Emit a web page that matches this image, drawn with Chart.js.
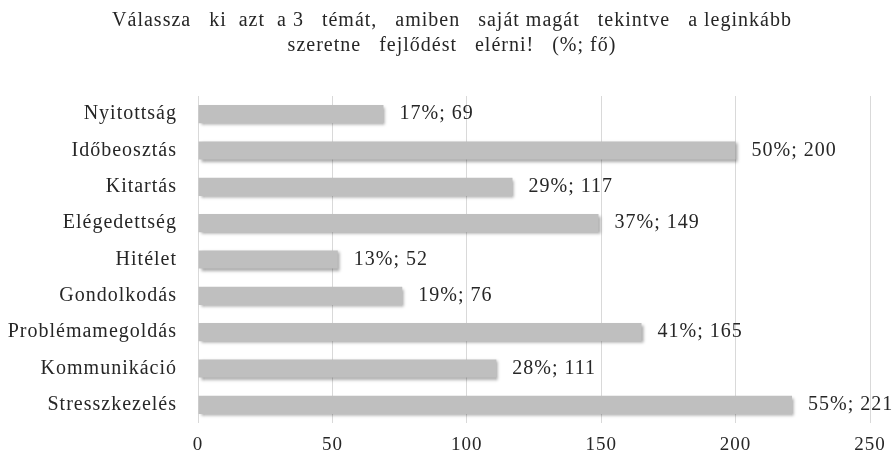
<!DOCTYPE html>
<html lang="hu">
<head>
  <meta charset="UTF-8" />
  <script src="https://cdn.jsdelivr.net/npm/chart.js"></script>
  <title>Fejlődési témák</title>
  <style>
    html, body { margin: 0; padding: 0; background: #fff; }
    #wrap { width: 893px; height: 457px; }
  </style>
</head>
<body>
  <div id="wrap"><canvas id="grafico" width="893" height="457"></canvas></div>
  <script>
    // Témák (fentről lefelé), fő és százalék
    const temak = [
      'Nyitottság', 'Időbeosztás', 'Kitartás', 'Elégedettség', 'Hitélet',
      'Gondolkodás', 'Problémamegoldás', 'Kommunikáció', 'Stresszkezelés'
    ];
    const fok = [69, 200, 117, 149, 52, 76, 165, 111, 221];
    const szazalekok = [17, 50, 29, 37, 13, 19, 41, 28, 55];
    const xTickek = [0, 50, 100, 150, 200, 250];

    const betu = "'Liberation Serif', 'Times New Roman', serif";

    // kicsit ritkított betűköz minden szövegre
    const betukoz = {
      id: 'betukoz',
      beforeLayout(chart) { chart.ctx.letterSpacing = '1px'; },
      beforeDraw(chart) { chart.ctx.letterSpacing = '1px'; }
    };

    // a hosszú kategórianevek ne vágódjanak le a bal szélen
    const balszel = {
      id: 'balszel',
      afterLayout(chart) { chart.scales.y.left = 0; }
    };

    // árnyék az oszlopok alá
    const arnyek = {
      id: 'arnyek',
      beforeDatasetsDraw(chart) {
        const ctx = chart.ctx;
        ctx.save();
        ctx.shadowColor = 'rgba(0,0,0,0.35)';
        ctx.shadowBlur = 3;
        ctx.shadowOffsetX = 2;
        ctx.shadowOffsetY = 2;
      },
      afterDatasetsDraw(chart) {
        chart.ctx.restore();
      }
    };

    // "17%; 69" feliratok az oszlopok végén
    const feliratok = {
      id: 'feliratok',
      afterDatasetsDraw(chart) {
        const ctx = chart.ctx;
        const meta = chart.getDatasetMeta(0);
        ctx.save();
        ctx.font = '20px ' + betu;
        ctx.fillStyle = '#262626';
        ctx.textAlign = 'left';
        ctx.textBaseline = 'middle';
        meta.data.forEach((bar, i) => {
          ctx.fillText(szazalekok[i] + '%; ' + fok[i], bar.x + 16, bar.y);
        });
        ctx.restore();
      }
    };

    const ctx = document.getElementById('grafico').getContext('2d');
    new Chart(ctx, {
      type: 'bar',
      data: {
        labels: temak,
        datasets: [{
          data: fok,
          backgroundColor: '#bfbfbf',
          borderWidth: 0,
          barPercentage: 0.5,
          categoryPercentage: 1
        }]
      },
      plugins: [betukoz, balszel, arnyek, feliratok],
      options: {
        indexAxis: 'y',
        responsive: false,
        animation: false,
        layout: { padding: { left: 34, right: 23, top: 8, bottom: 0 } },
        plugins: {
          legend: { display: false },
          tooltip: { enabled: false },
          title: {
            display: true,
            text: [
              'Válassza   ki  azt  a 3   témát,   amiben   saját magát   tekintve   a leginkább',
              'szeretne   fejlődést   elérni!   (%; fő)'
            ],
            color: '#262626',
            font: { family: betu, size: 20, weight: 'normal', lineHeight: 1.25 },
            padding: { top: 0, bottom: 38 }
          }
        },
        scales: {
          x: {
            min: 0,
            max: 250,
            afterBuildTicks(scale) {
              scale.ticks = xTickek.map(v => ({ value: v }));
            },
            afterFit(scale) {
              scale.height = 34;
              scale.paddingLeft = 0;
              scale.paddingRight = 0;
            },
            grid: { color: '#d9d9d9', drawTicks: false },
            border: { display: false },
            ticks: {
              color: '#262626',
              padding: 11,
              font: { family: betu, size: 19 }
            }
          },
          y: {
            afterFit(scale) {
              scale.width = 164;
              scale.paddingTop = 0;
              scale.paddingBottom = 0;
            },
            grid: { display: false },
            border: { display: false },
            ticks: {
              color: '#262626',
              padding: 13,
              font: { family: betu, size: 20 }
            }
          }
        }
      }
    });
  </script>
</body>
</html>
